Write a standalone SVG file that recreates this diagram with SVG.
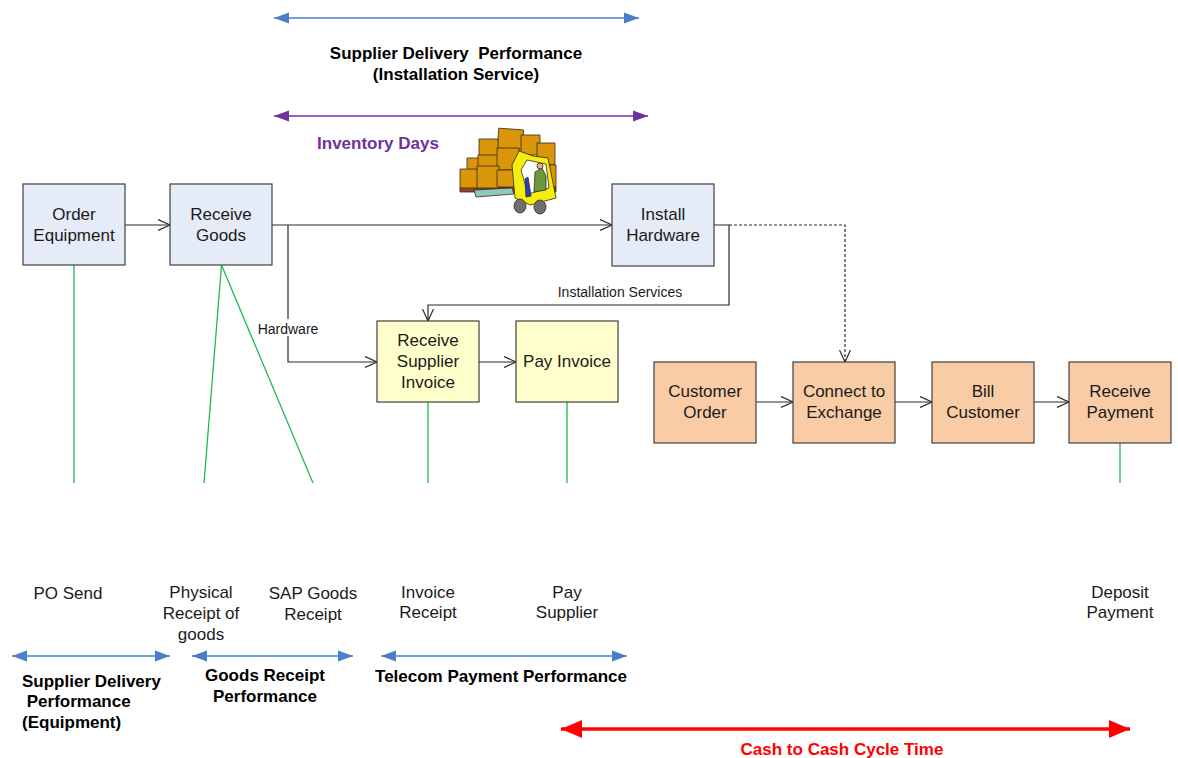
<svg xmlns="http://www.w3.org/2000/svg" width="1178" height="758" viewBox="0 0 1178 758">
  <style>
    .box { stroke: #404040; stroke-width: 1.2; }
    .blue { fill: #E6ECF7; }
    .yellow { fill: #FFFFCC; }
    .orange { fill: #F9CCA6; }
    .nt { font-family: "Liberation Sans", Arial, sans-serif; font-size: 17px; fill: #1a1a1a; text-anchor: middle; }
    .lt { font-family: "Liberation Sans", Arial, sans-serif; font-size: 14px; fill: #1a1a1a; text-anchor: middle; }
    .bt { font-family: "Liberation Sans", Arial, sans-serif; font-size: 17px; font-weight: bold; fill: #000; text-anchor: middle; white-space: pre; }
    .conn { fill: none; stroke: #2a2a2a; stroke-width: 1.2; }
    .green { fill: none; stroke: #1DB954; stroke-width: 1.3; }
    .span { stroke-width: 1.5; fill: none; }
  </style>
  <defs>
    <marker id="open" markerUnits="userSpaceOnUse" markerWidth="14" markerHeight="12" refX="12" refY="6" orient="auto">
      <path d="M0,0.5 L12,6 L0,11.5" fill="none" stroke="#2a2a2a" stroke-width="1.2"/>
    </marker>
    <marker id="blueEnd" markerUnits="userSpaceOnUse" markerWidth="16" markerHeight="12" refX="15" refY="6" orient="auto-start-reverse">
      <path d="M0,0.5 L15,6 L0,11.5 Z" fill="#4A7EC8"/>
    </marker>
    <marker id="purpleEnd" markerUnits="userSpaceOnUse" markerWidth="16" markerHeight="12" refX="15" refY="6" orient="auto-start-reverse">
      <path d="M0,0.5 L15,6 L0,11.5 Z" fill="#7030A0"/>
    </marker>
    <marker id="redEnd" markerUnits="userSpaceOnUse" markerWidth="22" markerHeight="18" refX="21" refY="9" orient="auto-start-reverse">
      <path d="M0,0 L21,9 L0,18 Z" fill="#FF0000"/>
    </marker>
  </defs>

  <rect width="1178" height="758" fill="#ffffff"/>

  <!-- measurement spans -->
  <g id="spans">
    <line class="span" x1="274" y1="18" x2="639" y2="18" stroke="#4A7EC8" marker-start="url(#blueEnd)" marker-end="url(#blueEnd)"/>
    <text class="bt" x="456" y="59" xml:space="preserve">Supplier Delivery  Performance</text>
    <text class="bt" x="456" y="80">(Installation Service)</text>

    <line class="span" x1="274" y1="116" x2="648" y2="116" stroke="#7030A0" marker-start="url(#purpleEnd)" marker-end="url(#purpleEnd)"/>
    <text class="bt" x="378" y="149" style="fill:#7030A0">Inventory Days</text>

    <line class="span" x1="12" y1="656" x2="170" y2="656" stroke="#4A7EC8" marker-start="url(#blueEnd)" marker-end="url(#blueEnd)"/>
    <line class="span" x1="192" y1="656" x2="353" y2="656" stroke="#4A7EC8" marker-start="url(#blueEnd)" marker-end="url(#blueEnd)"/>
    <line class="span" x1="381" y1="656" x2="627" y2="656" stroke="#4A7EC8" marker-start="url(#blueEnd)" marker-end="url(#blueEnd)"/>

    <text class="bt" x="22" y="687" style="text-anchor:start">Supplier Delivery</text>
    <text class="bt" x="22" y="707" style="text-anchor:start" xml:space="preserve"> Performance</text>
    <text class="bt" x="22" y="728" style="text-anchor:start">(Equipment)</text>
    <text class="bt" x="265" y="681">Goods Receipt</text>
    <text class="bt" x="265" y="702">Performance</text>
    <text class="bt" x="501" y="682">Telecom Payment Performance</text>

    <line x1="561" y1="729" x2="1130" y2="729" stroke="#FF0000" stroke-width="3.5" marker-start="url(#redEnd)" marker-end="url(#redEnd)"/>
    <text class="bt" x="842" y="755" style="fill:#FF0000">Cash to Cash Cycle Time</text>
  </g>

  <!-- forklift clip art -->
  <g id="forklift" stroke="#3a2a10" stroke-width="0.8" stroke-linejoin="round">
    <rect x="460" y="187" width="96" height="5" fill="#8B4A2B"/>
    <rect x="498" y="129" width="25" height="20" fill="#D9960A" transform="rotate(4 510 139)"/>
    <rect x="479" y="139" width="19" height="18" fill="#D9960A"/>
    <rect x="521" y="135" width="19" height="20" fill="#D9960A"/>
    <rect x="537" y="143" width="18" height="22" fill="#D9960A"/>
    <rect x="467" y="158" width="14" height="13" fill="#D9960A"/>
    <rect x="478" y="155" width="20" height="13" fill="#D9960A"/>
    <rect x="497" y="148" width="22" height="22" fill="#D9960A"/>
    <rect x="460" y="169" width="19" height="19" fill="#D9960A"/>
    <rect x="477" y="166" width="22" height="22" fill="#D9960A"/>
    <rect x="497" y="170" width="20" height="17" fill="#D9960A"/>
    <rect x="541" y="165" width="15" height="22" fill="#D9960A"/>
    <path d="M474,190 L512,188 L514,194 L476,197 Z" fill="#8FC8C0"/>
    <path d="M512,165 L519,151 L533,156 L548,158 L556,198 L530,205 L515,198 Z" fill="#F4EE10" stroke="#2a2a00"/>
    <path d="M521,170 L527,160 L546,164 L549,188 L528,194 Z" fill="#ffffff"/>
    <path d="M535,172 L542,168 L546,176 L546,190 L534,192 Z" fill="#6A9A40"/>
    <circle cx="540" cy="166" r="3" fill="#E9B07A"/>
    <path d="M525,179 L528,177 L531,196 L526,197 Z" fill="#1F3FC8"/>
    <ellipse cx="520" cy="206" rx="6" ry="7" fill="#6F6F6F"/>
    <ellipse cx="540" cy="207" rx="6" ry="7" fill="#6F6F6F"/>
  </g>

  <!-- connectors -->
  <g id="connectors">
    <line class="conn" x1="125" y1="225" x2="170" y2="225" marker-end="url(#open)"/>
    <line class="conn" x1="272" y1="225" x2="612" y2="225" marker-end="url(#open)"/>
    <polyline class="conn" points="288,225 288,362 377,362" marker-end="url(#open)"/>
    <rect x="256" y="319" width="63" height="17" fill="#ffffff"/>
    <text class="lt" x="288" y="334">Hardware</text>
    <polyline class="conn" points="714,225 729,225 729,305 428,305 428,321" marker-end="url(#open)"/>
    <text class="lt" x="620" y="297">Installation Services</text>
    <polyline class="conn" points="729,225 845,225 845,362" stroke-dasharray="3,2" marker-end="url(#open)"/>
    <line class="conn" x1="479" y1="362" x2="516" y2="362" marker-end="url(#open)"/>
    <line class="conn" x1="756" y1="402" x2="793" y2="402" marker-end="url(#open)"/>
    <line class="conn" x1="895" y1="402" x2="932" y2="402" marker-end="url(#open)"/>
    <line class="conn" x1="1034" y1="402" x2="1069" y2="402" marker-end="url(#open)"/>

    <!-- milestone lines -->
    <line class="green" x1="74" y1="265" x2="74" y2="483"/>
    <line class="green" x1="221.5" y1="265" x2="204" y2="483"/>
    <line class="green" x1="221.5" y1="265" x2="313" y2="483"/>
    <line class="green" x1="428" y1="402" x2="428" y2="483"/>
    <line class="green" x1="567" y1="402" x2="567" y2="483"/>
    <line class="green" x1="1120" y1="443" x2="1120" y2="483"/>
  </g>

  <!-- process nodes -->
  <g id="order-equipment">
    <rect class="box blue" x="23" y="184" width="102" height="81"/>
    <text class="nt" x="74" y="220">Order</text>
    <text class="nt" x="74" y="241">Equipment</text>
  </g>
  <g id="receive-goods">
    <rect class="box blue" x="170" y="184" width="102" height="81"/>
    <text class="nt" x="221" y="220">Receive</text>
    <text class="nt" x="221" y="241">Goods</text>
  </g>
  <g id="install-hardware">
    <rect class="box blue" x="612" y="184" width="102" height="82"/>
    <text class="nt" x="663" y="220">Install</text>
    <text class="nt" x="663" y="241">Hardware</text>
  </g>
  <g id="receive-supplier-invoice">
    <rect class="box yellow" x="377" y="321" width="102" height="81"/>
    <text class="nt" x="428" y="346">Receive</text>
    <text class="nt" x="428" y="367">Supplier</text>
    <text class="nt" x="428" y="388">Invoice</text>
  </g>
  <g id="pay-invoice">
    <rect class="box yellow" x="516" y="321" width="102" height="81"/>
    <text class="nt" x="567" y="367">Pay Invoice</text>
  </g>
  <g id="customer-order">
    <rect class="box orange" x="654" y="362" width="102" height="81"/>
    <text class="nt" x="705" y="397">Customer</text>
    <text class="nt" x="705" y="418">Order</text>
  </g>
  <g id="connect-to-exchange">
    <rect class="box orange" x="793" y="362" width="102" height="81"/>
    <text class="nt" x="844" y="397">Connect to</text>
    <text class="nt" x="844" y="418">Exchange</text>
  </g>
  <g id="bill-customer">
    <rect class="box orange" x="932" y="362" width="102" height="81"/>
    <text class="nt" x="983" y="397">Bill</text>
    <text class="nt" x="983" y="418">Customer</text>
  </g>
  <g id="receive-payment">
    <rect class="box orange" x="1069" y="362" width="102" height="81"/>
    <text class="nt" x="1120" y="397">Receive</text>
    <text class="nt" x="1120" y="418">Payment</text>
  </g>

  <!-- milestone labels -->
  <g id="milestones">
    <text class="nt" x="68" y="599">PO Send</text>
    <text class="nt" x="201" y="598">Physical</text>
    <text class="nt" x="201" y="619">Receipt of</text>
    <text class="nt" x="201" y="640">goods</text>
    <text class="nt" x="313" y="599">SAP Goods</text>
    <text class="nt" x="313" y="620">Receipt</text>
    <text class="nt" x="428" y="598">Invoice</text>
    <text class="nt" x="428" y="618">Receipt</text>
    <text class="nt" x="567" y="598">Pay</text>
    <text class="nt" x="567" y="618">Supplier</text>
    <text class="nt" x="1120" y="598">Deposit</text>
    <text class="nt" x="1120" y="618">Payment</text>
  </g>
</svg>
